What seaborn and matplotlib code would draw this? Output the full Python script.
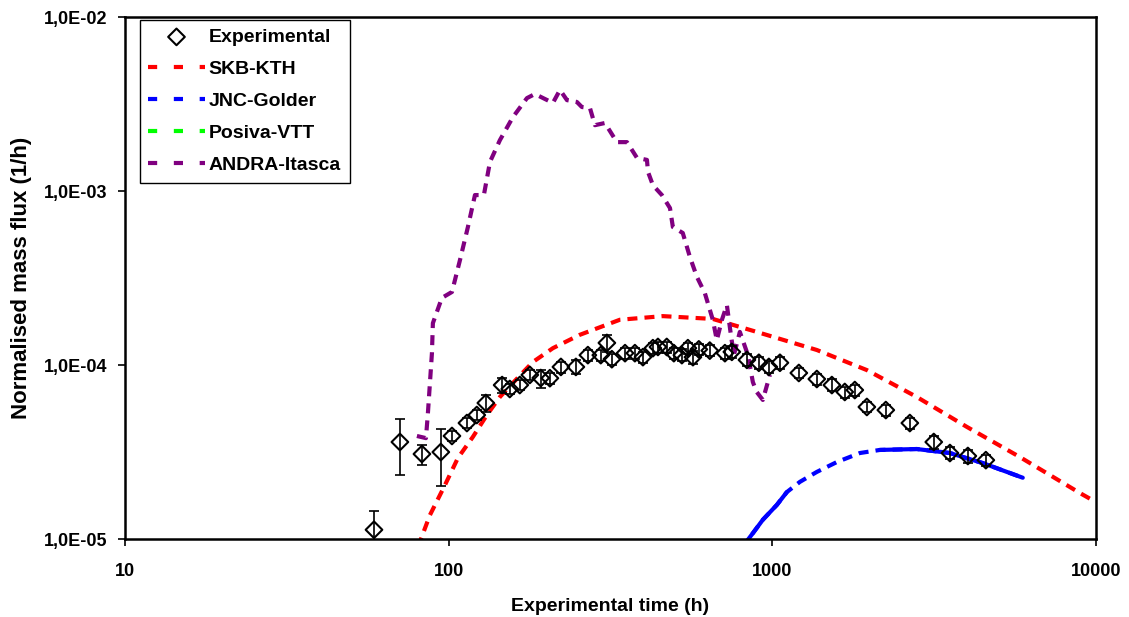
import numpy as np
import pandas as pd
import matplotlib
matplotlib.use("Agg")
import matplotlib.pyplot as plt
from matplotlib.ticker import FixedLocator, FixedFormatter, NullLocator
import seaborn as sns

# experimental breakthrough (time in h, normalised mass flux in 1/h, error)
exp_time = [58.8, 70.7, 82.7, 94.6, 102.4, 113.9, 122.2, 130.3, 146.3, 154.5,
            165.9, 178.2, 192.6, 205.5, 222.3, 247.3, 269.3, 295.2, 308.3, 319.4,
            350.8, 376.3, 398.4, 427.7, 443.3, 472, 496.5, 525.6, 548.6, 568.7,
            593, 641, 714, 750, 835, 909, 976, 1056, 1208, 1373,
            1528, 1675, 1799, 1960, 2243, 2661, 3155, 3539, 4021, 4570]
exp_flux = [1.13e-5, 3.61e-5, 3.08e-5, 3.16e-5, 3.91e-5, 4.64e-5, 5.16e-5, 6.05e-5, 7.67e-5, 7.28e-5,
            7.67e-5, 8.77e-5, 8.42e-5, 8.40e-5, 9.75e-5, 9.75e-5, 1.14e-4, 1.14e-4, 1.34e-4, 1.08e-4,
            1.17e-4, 1.17e-4, 1.11e-4, 1.25e-4, 1.27e-4, 1.27e-4, 1.17e-4, 1.14e-4, 1.25e-4, 1.11e-4,
            1.23e-4, 1.21e-4, 1.17e-4, 1.19e-4, 1.07e-4, 1.03e-4, 9.75e-5, 1.03e-4, 9.0e-5, 8.31e-5,
            7.67e-5, 7.0e-5, 7.18e-5, 5.74e-5, 5.51e-5, 4.64e-5, 3.61e-5, 3.12e-5, 3.0e-5, 2.84e-5]
exp_err = [0.32e-5, 1.28e-5, 0.40e-5, 1.13e-5, 0.25e-5, 0.30e-5, 0.35e-5, 0.70e-5, 0.80e-5, 0.50e-5,
           0.50e-5, 0.60e-5, 1.00e-5, 0.60e-5, 0.70e-5, 0.90e-5, 0.80e-5, 0.80e-5, 1.50e-5, 0.80e-5,
           0.80e-5, 0.80e-5, 0.80e-5, 0.90e-5, 0.90e-5, 0.90e-5, 0.90e-5, 0.90e-5, 0.90e-5, 0.90e-5,
           0.90e-5, 0.90e-5, 0.90e-5, 0.90e-5, 0.80e-5, 0.80e-5, 0.80e-5, 0.80e-5, 0.60e-5, 0.60e-5,
           0.60e-5, 0.50e-5, 0.50e-5, 0.40e-5, 0.40e-5, 0.35e-5, 0.30e-5, 0.25e-5, 0.25e-5, 0.20e-5]

# SKB-KTH model
skb_time = [80.4, 87.5, 97.4, 106.8, 118.8, 131.3, 144.0, 158.0, 182, 210,
            254, 338, 459, 655, 895, 1373, 1960, 2797, 3992, 5819, 8913, 10000]
skb_flux = [9.0e-6, 1.37e-5, 2.04e-5, 2.92e-5, 3.86e-5, 5.16e-5, 6.55e-5, 7.89e-5, 1.04e-4, 1.25e-4,
            1.49e-4, 1.82e-4, 1.91e-4, 1.84e-4, 1.55e-4, 1.22e-4, 9.35e-5, 6.55e-5, 4.41e-5, 2.96e-5,
            1.84e-5, 1.63e-5]

# JNC-Golder model
jnc_time = [805, 871, 935, 1033, 1109, 1217, 1373, 1584, 1865, 2149,
            2797, 3539, 4474, 5942]
jnc_flux = [8.9e-6, 1.08e-5, 1.29e-5, 1.57e-5, 1.86e-5, 2.13e-5, 2.43e-5, 2.77e-5, 3.12e-5, 3.25e-5,
            3.29e-5, 3.12e-5, 2.73e-5, 2.25e-5]

# Posiva-VTT model (no values inside the plotted range)
posiva_time = []
posiva_flux = []

# ANDRA-Itasca model
andra_time = [79.8, 85.1, 86.3, 88.8, 89.4, 95.3, 102.4, 108.4, 114.7, 120.6,
              128.5, 134.2, 144.0, 158.0, 174.6, 184.8, 198.4, 210, 220.8, 232.1,
              249, 258, 273.3, 283.2, 304, 331, 355.6, 382, 410, 413,
              427.7, 456, 483, 493, 529, 556.5, 585, 619, 655, 674,
              699, 724, 745, 761, 794, 841, 871, 895, 935, 983]
andra_flux = [3.91e-5, 3.80e-5, 5.30e-5, 1.17e-4, 1.74e-4, 2.43e-4, 2.63e-4, 4.01e-4, 6.21e-4, 9.48e-4,
              9.48e-4, 1.47e-3, 1.96e-3, 2.66e-3, 3.42e-3, 3.61e-3, 3.38e-3, 3.21e-3, 3.81e-3, 3.33e-3,
              3.25e-3, 3.04e-3, 3.0e-3, 2.39e-3, 2.46e-3, 1.91e-3, 1.91e-3, 1.55e-3, 1.51e-3, 1.29e-3,
              1.08e-3, 9.48e-4, 7.98e-4, 6.21e-4, 5.74e-4, 4.18e-4, 3.21e-4, 2.59e-4, 1.82e-4, 1.39e-4,
              1.82e-4, 2.21e-4, 1.49e-4, 1.14e-4, 1.55e-4, 1.14e-4, 7.98e-5, 7.0e-5, 6.3e-5, 8.77e-5]

x_ticks = [10, 100, 1000, 10000]
x_tick_labels = ["10", "100", "1000", "10000"]
y_ticks = [1e-5, 1e-4, 1e-3, 1e-2]
y_tick_labels = ["1,0E-05", "1,0E-04", "1,0E-03", "1,0E-02"]

sns.set_style("white")
plt.rcParams["font.family"] = ["Liberation Sans", "DejaVu Sans"]
plt.rcParams["font.weight"] = "bold"
plt.rcParams["text.color"] = "black"
plt.rcParams["axes.labelcolor"] = "black"
plt.rcParams["xtick.color"] = "black"
plt.rcParams["ytick.color"] = "black"

fig = plt.figure(figsize=(11.29, 6.17), dpi=100)
ax = fig.add_axes([0.1107, 0.1264, 0.86, 0.846])

dash = (0, (2.4, 1.7))
lw = 3.0

ax.errorbar(exp_time, exp_flux, yerr=exp_err, fmt="none", ecolor="black",
            elinewidth=1.2, capsize=3.5, capthick=1.2, zorder=3)
sns.scatterplot(x=exp_time, y=exp_flux, marker="D", s=72, facecolors="none",
                edgecolor="black", linewidth=1.5, label="Experimental", ax=ax, zorder=4)

sns.lineplot(x=skb_time, y=skb_flux, color="#ff0000", lw=lw, linestyle=dash,
             sort=False, estimator=None, label="SKB-KTH", ax=ax)
sns.lineplot(x=jnc_time, y=jnc_flux, color="#0000ff", lw=lw, linestyle=dash,
             sort=False, estimator=None, label="JNC-Golder", ax=ax)
# parts of the JNC curve look solid in the original (dense output points)
jnc = pd.DataFrame({"t": jnc_time, "f": jnc_flux})
for part in (jnc[jnc["t"] <= 1109], jnc[jnc["t"] >= 2149]):
    sns.lineplot(x=part["t"].values, y=part["f"].values, color="#0000ff", lw=lw,
                 sort=False, estimator=None, legend=False, ax=ax)
ax.plot(posiva_time, posiva_flux, color="#00ff00", lw=lw, linestyle=dash, label="Posiva-VTT")
sns.lineplot(x=andra_time, y=andra_flux, color="#800080", lw=lw, linestyle=dash,
             sort=False, estimator=None, label="ANDRA-Itasca", ax=ax)

for line in ax.get_lines():
    line.set_dash_capstyle("butt")

ax.set_xscale("log")
ax.set_yscale("log")
ax.set_xlim(10, 10000)
ax.set_ylim(1e-5, 1e-2)
ax.xaxis.set_major_locator(FixedLocator(x_ticks))
ax.xaxis.set_major_formatter(FixedFormatter(x_tick_labels))
ax.yaxis.set_major_locator(FixedLocator(y_ticks))
ax.yaxis.set_major_formatter(FixedFormatter(y_tick_labels))
ax.xaxis.set_minor_locator(NullLocator())
ax.yaxis.set_minor_locator(NullLocator())
ax.tick_params(axis="both", which="major", direction="out", length=5, width=1.2,
               labelsize=13, color="black", labelcolor="black", pad=8, bottom=True, left=True)
ax.tick_params(axis="x", pad=12)

for sp in ax.spines.values():
    sp.set_color("black")
    sp.set_linewidth(1.8)

ax.set_xlabel("Experimental time (h)", fontsize=14, fontweight="bold", labelpad=13, color="black")
ax.set_ylabel("Normalised mass flux (1/h)", fontsize=16, fontweight="bold", labelpad=8, color="black")

leg = ax.legend(loc="upper left", bbox_to_anchor=(0.015, 0.995), fontsize=14,
                frameon=True, fancybox=False, edgecolor="black", framealpha=1,
                handlelength=2.9, handletextpad=0.2, labelspacing=0.74,
                borderpad=0.45, borderaxespad=0)
leg.get_frame().set_linewidth(1.0)
for t in leg.get_texts():
    t.set_fontweight("bold")
    t.set_color("black")
for h in leg.get_lines():
    h.set_dashes((2.2, 4.0))
    h.set_dash_capstyle("butt")

fig.savefig("out.png", dpi=100, facecolor="white")
